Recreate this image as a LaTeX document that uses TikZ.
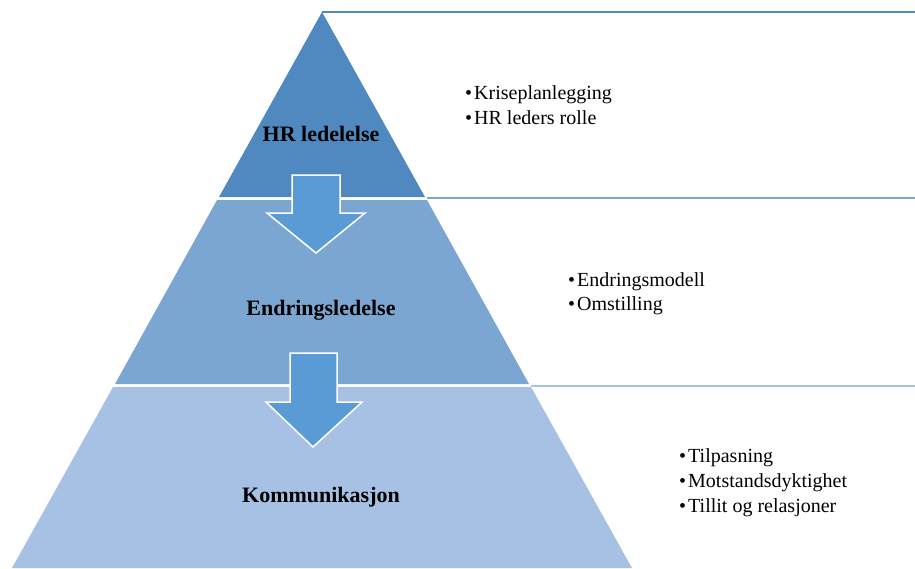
\documentclass[tikz,border=0pt]{standalone}
\usepackage{fontspec}
\setmainfont{Liberation Serif}
\definecolor{bandtop}{RGB}{80,137,192}
\definecolor{bandmid}{RGB}{123,166,210}
\definecolor{bandlow}{RGB}{166,193,228}
\definecolor{pilblue}{RGB}{91,155,213}
\newcommand{\pkt}{\textbullet\hspace{2pt}}
\tikzset{
  nivaa/.style={font=\fontsize{22}{26}\selectfont\bfseries, anchor=base, inner sep=0pt},
  punkt/.style={font=\fontsize{20}{24}\selectfont, anchor=base west, inner sep=0pt},
  pil/.style={fill=pilblue, draw=white, line width=1.5pt, line join=miter}
}
\begin{document}
\begin{tikzpicture}[x=1pt,y=-1pt]
  \useasboundingbox (0,0) rectangle (915,568);
  % lines to the right
  \draw[color=bandtop, line width=2pt] (322,12) -- (915,12);
  \draw[color=bandmid, line width=2pt] (427,198) -- (915,198);
  \draw[color=bandlow, line width=2pt] (531,386) -- (915,386);
  % pyramid
  \fill[bandtop] (322,12) -- (425,197) -- (219,197) -- cycle;
  \fill[bandmid] (217,200) -- (427,200) -- (529,384) -- (115,384) -- cycle;
  \fill[bandlow] (113,387) -- (531,387) -- (632,568) -- (12,568) -- cycle;
  % arrows
  \draw[pil] (292,175) -- (340,175) -- (340,213) -- (365,213) -- (316,253)
    -- (267,213) -- (292,213) -- cycle;
  \draw[pil] (290,353) -- (337,353) -- (337,402) -- (362,402) -- (313,447)
    -- (266,402) -- (290,402) -- cycle;
  % levels
  \node[nivaa] (hr) at (321,141) {HR ledelelse};
  \node[nivaa] (endring) at (321,315) {Endringsledelse};
  \node[nivaa] (komm) at (321,502) {Kommunikasjon};
  % bullet lists
  \node[punkt] (krise) at (465,99) {\pkt Kriseplanlegging};
  \node[punkt] (rolle) at (465,124) {\pkt HR leders rolle};
  \node[punkt] (modell) at (568,286) {\pkt Endringsmodell};
  \node[punkt] (omst) at (568,310) {\pkt Omstilling};
  \node[punkt] (tilp) at (679,462) {\pkt Tilpasning};
  \node[punkt] (motst) at (679,487) {\pkt Motstandsdyktighet};
  \node[punkt] (tillit) at (679,512) {\pkt Tillit og relasjoner};
\end{tikzpicture}
\end{document}
